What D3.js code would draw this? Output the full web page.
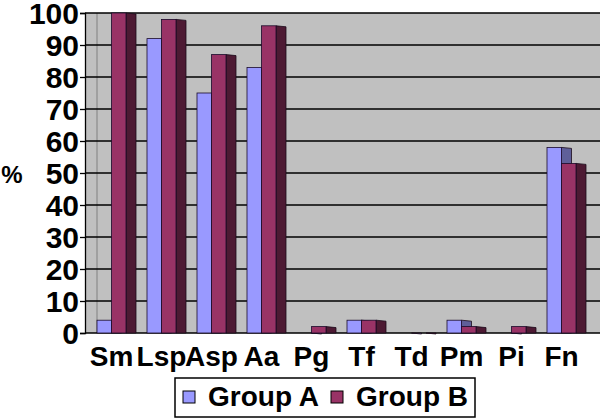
<!DOCTYPE html>
<html>
<head>
<meta charset="utf-8">
<script src="https://cdn.jsdelivr.net/npm/d3@7"></script>
<style>
  html, body { margin: 0; padding: 0; background: #fff; }
  svg { display: block; font-family: "Liberation Sans", Arial, sans-serif; font-weight: bold; }
</style>
</head>
<body>
<div id="chart"></div>
<script>
// Chart data
const categories = ['Sm', 'Lsp', 'Asp', 'Aa', 'Pg', 'Tf', 'Td', 'Pm', 'Pi', 'Fn'];
const groupA = [4, 92, 75, 83, 0, 4, 0, 4, 0, 58];
const groupB = [100, 98, 87, 96, 2, 4, 0, 2, 2, 53];
const seriesNames = ['Group A', 'Group B'];
const yTicks = [0, 10, 20, 30, 40, 50, 60, 70, 80, 90, 100];

function drawChart() {
    const width = 600, height = 419;
    const depth = 10; // 3d side face width

    const svg = d3.select('#chart')
        .append('svg')
        .attr('width', width)
        .attr('height', height);

    const x = d3.scaleBand()
        .domain(categories)
        .range([91, 591]);

    const sub = d3.scaleBand()
        .domain(seriesNames)
        .range([6, 35]);

    const y = d3.scaleLinear()
        .domain([0, 100])
        .range([333, 13]);

    // Plot area background (walls)
    svg.append('rect')
        .attr('x', 85).attr('y', y(100))
        .attr('width', width - 85).attr('height', y(0) - y(100))
        .attr('fill', '#c0c0c0');

    // back wall corner
    svg.append('line')
        .attr('x1', 97).attr('x2', 97)
        .attr('y1', y(100)).attr('y2', y(0))
        .attr('stroke', '#808080').attr('stroke-width', 1);

    // Gridlines
    svg.append('g')
        .selectAll('line')
        .data(yTicks)
        .enter()
        .append('line')
        .attr('x1', 85).attr('x2', width)
        .attr('y1', d => y(d)).attr('y2', d => y(d))
        .attr('stroke', '#000').attr('stroke-width', 1.3);

    // Y axis
    const yAxis = svg.append('g')
        .attr('transform', 'translate(85,0)')
        .call(d3.axisLeft(y).tickValues(yTicks).tickSize(5).tickPadding(1));
    yAxis.select('.domain').attr('stroke', '#000').attr('stroke-width', 1.3);
    yAxis.selectAll('.tick line').attr('stroke', '#000').attr('stroke-width', 1.3);
    yAxis.selectAll('.tick text')
        .attr('font-size', 30)
        .attr('dy', '0.36em')
        .attr('font-weight', 'bold')
        .attr('font-family', '"Liberation Sans", Arial, sans-serif')
        .attr('fill', '#000');

    svg.append('text')
        .attr('x', 12).attr('y', 183)
        .attr('text-anchor', 'middle')
        .attr('font-size', 24)
        .text('%');

    // Bars
    const series = [
        { name: 'Group A', values: groupA, front: '#9999ff', side: '#5f5f99' },
        { name: 'Group B', values: groupB, front: '#993366', side: '#4d1a33' }
    ];

    const bars = svg.append('g');
    series.forEach(s => {
        categories.forEach((c, i) => {
            const x0 = x(c) + sub(s.name);
            const x1 = x0 + sub.bandwidth();
            const yt = y(s.values[i]);
            // side face
            bars.append('path')
                .attr('d', `M${x1},${yt}L${x1 + depth},${yt + 1}L${x1 + depth},${y(0)}L${x1},${y(0)}Z`)
                .attr('fill', s.side)
                .attr('stroke', '#1a0a1a').attr('stroke-width', 0.8);
            // front face
            bars.append('rect')
                .attr('x', x0).attr('y', yt)
                .attr('width', sub.bandwidth())
                .attr('height', y(0) - yt)
                .attr('fill', s.front)
                .attr('stroke', '#1a0a2a').attr('stroke-width', 0.8);
        });
    });

    // Category labels
    svg.append('g')
        .selectAll('text')
        .data(categories)
        .enter()
        .append('text')
        .attr('x', d => x(d) + 20.5)
        .attr('y', 366)
        .attr('text-anchor', 'middle')
        .attr('font-size', 28)
        .text(d => d);

    // Legend
    const legend = svg.append('g');
    legend.append('rect')
        .attr('x', 175).attr('y', 378)
        .attr('width', 300).attr('height', 39)
        .attr('fill', '#fff').attr('stroke', '#000').attr('stroke-width', 1.5);
    const legendX = [183, 331];
    series.forEach((s, i) => {
        legend.append('rect')
            .attr('x', legendX[i]).attr('y', 391)
            .attr('width', 12).attr('height', 12)
            .attr('fill', s.front).attr('stroke', '#000').attr('stroke-width', 1);
        legend.append('text')
            .attr('x', legendX[i] + 25).attr('y', 406)
            .attr('font-size', 28)
            .text(s.name);
    });
}

document.addEventListener('DOMContentLoaded', drawChart);
</script>
</body>
</html>
